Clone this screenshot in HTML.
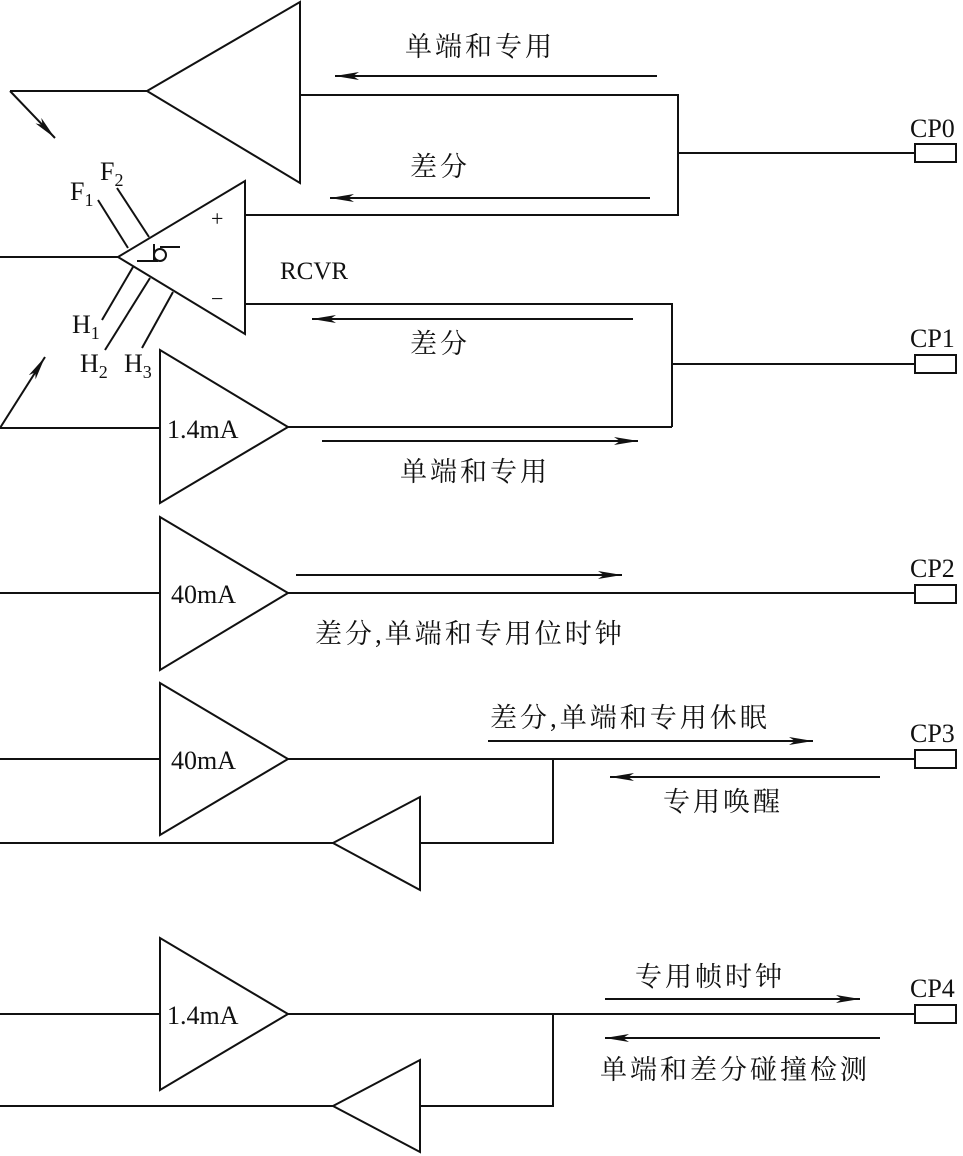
<!DOCTYPE html>
<html><head><meta charset="utf-8"><style>
html,body{margin:0;padding:0;background:#fff;}
svg{display:block;}
.t{font-family:"Liberation Serif","Noto Serif CJK SC",serif;fill:#111;}
.c{font-family:"Liberation Serif","Noto Serif CJK SC",serif;fill:#111;letter-spacing:3px;}
</style></head><body>
<svg width="963" height="1156" viewBox="0 0 963 1156" xmlns="http://www.w3.org/2000/svg">
<defs>
<marker id="ar" viewBox="0 0 24 10" refX="24" refY="5" markerWidth="24" markerHeight="10" markerUnits="userSpaceOnUse" orient="auto">
<path d="M0,1 L24,5 L0,9 L6,5 Z" fill="#111"/></marker>
</defs>
<g stroke="#111" stroke-width="2" fill="none">
<polygon points="147,91 300,2 300,183"/>
<line x1="10" y1="91" x2="147" y2="91"/>
<line x1="10" y1="91" x2="55" y2="138" marker-end="url(#ar)"/>
<polyline points="300,95 678,95 678,215 245,215"/>
<line x1="678" y1="153" x2="915" y2="153"/>
<rect x="915" y="144" width="41" height="18"/>
<line x1="657" y1="76" x2="335" y2="76" marker-end="url(#ar)"/>
<line x1="650" y1="198" x2="330" y2="198" marker-end="url(#ar)"/>
<polygon points="118,257 245,181 245,334"/>
<line x1="0" y1="257" x2="118" y2="257"/>
<polyline points="245,304 672,304 672,427"/>
<line x1="672" y1="364" x2="915" y2="364"/>
<rect x="915" y="355" width="41" height="18"/>
<line x1="633" y1="319" x2="312" y2="319" marker-end="url(#ar)"/>
<line x1="98" y1="200" x2="128" y2="248"/>
<line x1="117" y1="188" x2="149" y2="237"/>
<line x1="133" y1="267" x2="102" y2="320"/>
<line x1="150" y1="278" x2="105" y2="350"/>
<line x1="173" y1="292" x2="142" y2="348"/>
<line x1="137" y1="261" x2="158" y2="261"/>
<line x1="160" y1="247" x2="180" y2="247"/>
<circle cx="160" cy="255" r="6"/>
<line x1="154" y1="244" x2="154" y2="261"/>
<polygon points="160,350 160,503 288,427"/>
<line x1="0" y1="428" x2="160" y2="428"/>
<line x1="0" y1="428" x2="45" y2="357" marker-end="url(#ar)"/>
<line x1="288" y1="427" x2="672" y2="427"/>
<line x1="322" y1="441" x2="638" y2="441" marker-end="url(#ar)"/>
<polygon points="160,517 160,670 288,593"/>
<line x1="0" y1="593" x2="160" y2="593"/>
<line x1="288" y1="593" x2="915" y2="593"/>
<rect x="915" y="585" width="41" height="18"/>
<line x1="296" y1="575" x2="622" y2="575" marker-end="url(#ar)"/>
<polygon points="160,683 160,835 288,759"/>
<line x1="0" y1="759" x2="160" y2="759"/>
<line x1="288" y1="759" x2="915" y2="759"/>
<rect x="915" y="750" width="41" height="18"/>
<polyline points="553,759 553,843 420,843"/>
<polygon points="333,843 420,797 420,890"/>
<line x1="0" y1="843" x2="333" y2="843"/>
<line x1="488" y1="741" x2="813" y2="741" marker-end="url(#ar)"/>
<line x1="880" y1="777" x2="610" y2="777" marker-end="url(#ar)"/>
<polygon points="160,938 160,1090 288,1014"/>
<line x1="0" y1="1014" x2="160" y2="1014"/>
<line x1="288" y1="1014" x2="915" y2="1014"/>
<rect x="915" y="1005" width="41" height="18"/>
<polyline points="553,1014 553,1106 420,1106"/>
<polygon points="333,1106 420,1060 420,1152"/>
<line x1="0" y1="1106" x2="333" y2="1106"/>
<line x1="605" y1="999" x2="860" y2="999" marker-end="url(#ar)"/>
<line x1="880" y1="1038" x2="605" y2="1038" marker-end="url(#ar)"/>
</g>
<g class="t" font-size="26">
<text x="910" y="137">CP0</text>
<text x="910" y="347">CP1</text>
<text x="910" y="577">CP2</text>
<text x="910" y="742">CP3</text>
<text x="910" y="997">CP4</text>
<text x="280" y="279" font-size="25">RCVR</text>
<text x="211" y="226" font-size="22">+</text>
<text x="211" y="306" font-size="22">−</text>
<text x="70" y="200">F<tspan font-size="18" dy="6">1</tspan></text>
<text x="100" y="180">F<tspan font-size="18" dy="6">2</tspan></text>
<text x="72" y="333">H<tspan font-size="18" dy="6">1</tspan></text>
<text x="80" y="372">H<tspan font-size="18" dy="6">2</tspan></text>
<text x="124" y="372">H<tspan font-size="18" dy="6">3</tspan></text>
<text x="167" y="438">1.4mA</text>
<text x="171" y="603">40mA</text>
<text x="171" y="769">40mA</text>
<text x="167" y="1024">1.4mA</text>
</g>
<g class="c" font-size="27">
<text x="405" y="56">单端和专用</text>
<text x="410" y="176">差分</text>
<text x="410" y="353">差分</text>
<text x="400" y="481">单端和专用</text>
<text x="315" y="643">差分,单端和专用位时钟</text>
<text x="490" y="727">差分,单端和专用休眠</text>
<text x="663" y="811">专用唤醒</text>
<text x="635" y="986">专用帧时钟</text>
<text x="600" y="1079">单端和差分碰撞检测</text>
</g>
</svg>
</body></html>
